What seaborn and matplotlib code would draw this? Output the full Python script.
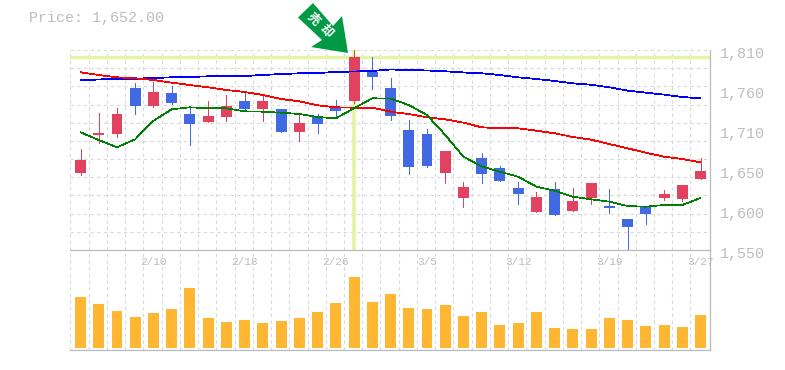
import numpy as np
import pandas as pd
import matplotlib
matplotlib.use("Agg")
import matplotlib.pyplot as plt
from matplotlib.patches import Polygon
import seaborn as sns

# Daily prices
open_px = [1650.0, 1699.5, 1700.8, 1760.6, 1737.2, 1754.1, 1726.8, 1716.4, 1722.9, 1743.7, 1733.3, 1733.3,
           1703.4, 1724.2, 1735.9, 1743.7, 1781.4, 1760.6, 1706.0, 1700.8, 1650.1, 1617.6, 1669.6, 1656.6,
           1630.6, 1599.4, 1629.3, 1600.7, 1617.6, 1607.2, 1590.3, 1607.2, 1617.6, 1616.3, 1642.3]
close_px = [1667.0, 1702.1, 1726.8, 1737.2, 1755.4, 1741.1, 1713.8, 1724.2, 1737.2, 1733.3, 1743.7, 1703.4,
            1715.1, 1713.8, 1730.7, 1800.9, 1774.9, 1724.2, 1657.9, 1659.2, 1678.7, 1631.9, 1648.8, 1639.7,
            1622.8, 1618.9, 1595.5, 1613.7, 1637.1, 1604.6, 1579.9, 1596.8, 1622.8, 1634.5, 1652.7]
high_px = [1681.3, 1728.1, 1734.6, 1767.1, 1768.4, 1763.2, 1737.2, 1743.7, 1751.5, 1755.4, 1751.5, 1733.3,
           1728.1, 1726.8, 1745.0, 1810.0, 1800.9, 1773.6, 1719.0, 1707.3, 1678.7, 1638.4, 1676.1, 1659.2,
           1638.4, 1625.4, 1638.4, 1630.6, 1637.1, 1629.3, 1590.3, 1607.2, 1628.0, 1634.5, 1669.6]
low_px = [1647.5, 1689.1, 1696.9, 1726.8, 1735.9, 1739.8, 1686.5, 1716.4, 1717.7, 1733.3, 1717.7, 1703.4,
          1691.7, 1702.1, 1722.9, 1741.1, 1759.3, 1719.0, 1648.8, 1657.9, 1637.1, 1605.9, 1637.1, 1639.7,
          1609.8, 1599.4, 1595.5, 1600.7, 1609.8, 1598.1, 1550.0, 1583.8, 1615.0, 1613.7, 1642.3]

ma_short = [1703.0, 1693.0, 1683.5, 1693.9, 1718.0, 1732.9, 1735.5, 1734.2, 1734.2, 1730.3, 1729.8, 1728.5,
            1726.8, 1722.9, 1721.2, 1734.2, 1747.2, 1747.0, 1738.5, 1725.5, 1699.5, 1671.3, 1658.6, 1651.8,
            1645.3, 1632.3, 1627.1, 1619.3, 1615.9, 1612.8, 1607.2, 1606.3, 1608.5, 1608.5, 1617.6]
ma_mid = [1781.0, 1777.5, 1774.5, 1773.2, 1771.0, 1767.5, 1764.5, 1761.5, 1758.0, 1755.4, 1751.5, 1746.3,
          1743.3, 1738.1, 1735.5, 1735.0, 1735.0, 1729.8, 1726.8, 1722.5, 1719.9, 1715.5, 1709.5, 1708.2,
          1708.2, 1705.1, 1701.7, 1696.9, 1693.4, 1687.8, 1682.2, 1676.5, 1671.3, 1668.3, 1664.0]
ma_long = [1770.6, 1771.7, 1772.3, 1772.7, 1773.6, 1774.5, 1774.9, 1775.8, 1775.8, 1776.2, 1777.5, 1778.8,
           1779.7, 1780.1, 1781.4, 1782.1, 1782.7, 1784.7, 1784.0, 1783.4, 1782.3, 1780.8, 1779.7, 1777.5,
           1774.5, 1772.3, 1769.7, 1766.7, 1764.8, 1761.5, 1757.2, 1754.6, 1752.0, 1748.9, 1747.2]

volume = [51, 44, 37, 31, 35, 39, 60, 30, 26, 28, 25, 27, 30, 36, 45, 71, 46, 54,
          40, 39, 43, 32, 36, 23, 25, 36, 20, 19, 19, 30, 28, 22, 23, 21, 33]

date_pos = [4, 9, 14, 19, 24, 29, 34]
date_labels = ["2/10", "2/18", "2/26", "3/5", "3/12", "3/19", "3/27"]

price_pos = [1810, 1758, 1706, 1654, 1602, 1550]
price_labels = ["1,810", "1,760", "1,710", "1,650", "1,600", "1,550"]

signal_day = 15
signal_price = 1800.9

RED = "#e2425f"
BLUE = "#4169e1"
ORANGE = "#ffb733"
GRID = "#d9d9d9"
FRAME = "#bbbbbb"
TEXT = "#bdbdbd"
MARK = "#e2f5a3"
MONO = "Liberation Mono"

sns.set_style("white")

df = pd.DataFrame({"day": np.arange(len(open_px)), "open": open_px, "close": close_px,
                   "high": high_px, "low": low_px, "short": ma_short, "mid": ma_mid,
                   "long": ma_long, "volume": volume})

W, H = 785, 370
fig = plt.figure(figsize=(W / 100, H / 100), dpi=100)
ax = fig.add_axes([70 / W, 1 - 250 / H, 640 / W, 200 / H])
ax_vol = fig.add_axes([70 / W, 1 - 350 / H, 640 / W, 100 / H])

xlim = (-0.576, 34.52)
grid_x = df["day"] - 0.55

# price panel
ax.vlines(grid_x, 1550, 1810, color=GRID, lw=0.8, ls=(0, (3, 3)), zorder=0)
ax.hlines(np.linspace(1550, 1810, 12), xlim[0], xlim[1], color=GRID, lw=0.8, ls=(0, (3, 3)), zorder=0)
ax.axhline(signal_price, color=MARK, lw=2.4, zorder=1)
ax.axvline(signal_day, color=MARK, lw=2.6, zorder=1)

colors = [RED if c >= o else BLUE for o, c in zip(df["open"], df["close"])]
ax.vlines(df["day"], df["low"], df["high"], color=colors, lw=0.6, zorder=2, antialiased=False)
ax.bar(df["day"], (df["close"] - df["open"]).abs().clip(lower=2),
       bottom=df[["open", "close"]].min(axis=1), width=0.6, color=colors, zorder=3,
       linewidth=0, antialiased=False)

sns.lineplot(data=df, x="day", y="long", color="#0000ff", linewidth=0.55, ax=ax, zorder=4, antialiased=False)
sns.lineplot(data=df, x="day", y="mid", color="#ff0000", linewidth=0.55, ax=ax, zorder=4, antialiased=False)
sns.lineplot(data=df, x="day", y="short", color="#008000", linewidth=0.5, ax=ax, zorder=4, antialiased=False)

ax.set_xlim(xlim)
ax.set_ylim(1550, 1810)
ax.set_xticks([])
ax.set_yticks([])
ax.set_xlabel("")
ax.set_ylabel("")
for side in ax.spines:
    ax.spines[side].set_visible(False)
ax.spines["right"].set_visible(True)
ax.spines["right"].set_color(FRAME)
ax.spines["right"].set_linewidth(0.9)
ax.patch.set_alpha(0)

for val, lab in zip(price_pos, price_labels):
    ax.annotate(lab, xy=(1, val), xycoords=("axes fraction", "data"), xytext=(7.4, -2.6),
                textcoords="offset points", va="center", ha="left", family=MONO,
                fontsize=10.8, color=TEXT, annotation_clip=False)

# volume panel
ax_vol.vlines(grid_x, -2, 98, color=GRID, lw=0.8, ls=(0, (3, 3)), zorder=0)
sns.barplot(data=df, x="day", y="volume", native_scale=True, color=ORANGE, saturation=1,
            width=0.6, ax=ax_vol, zorder=2, linewidth=0, antialiased=False)
ax_vol.set_xlim(xlim)
ax_vol.set_ylim(-2, 98)
ax_vol.set_xticks([])
ax_vol.set_yticks([])
ax_vol.set_xlabel("")
ax_vol.set_ylabel("")
ax_vol.spines["left"].set_visible(False)
for side in ["top", "bottom", "right"]:
    ax_vol.spines[side].set_color(FRAME)
    ax_vol.spines[side].set_linewidth(0.9)
ax_vol.patch.set_alpha(0)

for pos, lab in zip(date_pos, date_labels):
    ax_vol.text(pos, 86, lab, ha="center", va="center", family=MONO, fontsize=8,
                color=TEXT, clip_on=False)

# overlay in pixel coords for the title and the signal arrow
over = fig.add_axes([0, 0, 1, 1])
over.set_xlim(0, W)
over.set_ylim(H, 0)
over.axis("off")
over.text(29, 18, "Price: 1,652.00", family=MONO, fontsize=10.8, color=TEXT, va="center", ha="left")
arrow = [(313, 3), (298, 17.5), (322, 40), (311, 47), (348, 53), (342, 16), (333, 26)]
over.add_patch(Polygon(arrow, closed=True, facecolor="#009944", edgecolor="none", linewidth=0))
over.text(313, 19, "売", family=["Noto Sans CJK JP", "DejaVu Sans"], fontsize=9, fontweight="bold",
          color="white", rotation=-45, ha="center", va="center")
over.text(326, 31, "却", family=["Noto Sans CJK JP", "DejaVu Sans"], fontsize=9, fontweight="bold",
          color="white", rotation=-45, ha="center", va="center")

fig.savefig("out.png", dpi=100, facecolor="white")
